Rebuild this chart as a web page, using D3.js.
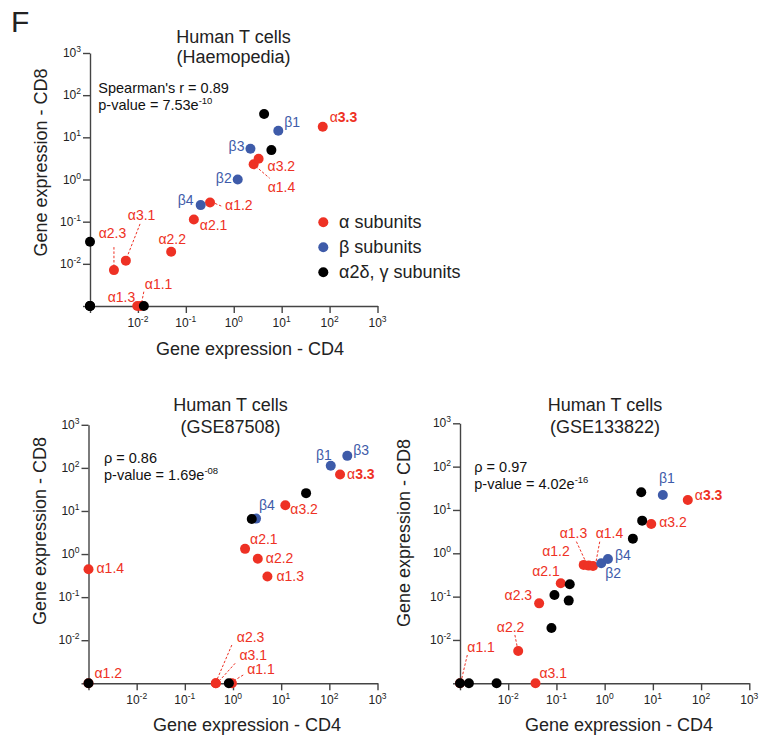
<!DOCTYPE html>
<html><head><meta charset="utf-8">
<script src="https://cdn.jsdelivr.net/npm/d3@7"></script>
<style>body{margin:0;background:#fff} svg{display:block;font-family:"Liberation Sans",Arial,Helvetica,sans-serif}</style>
</head><body><svg id="c" width="773" height="738"></svg>
<script>
// ---------- DATA ----------
const alphaNames = ["α1.1","α1.2","α1.3","α1.4","α2.1","α2.2","α2.3","α3.1","α3.2","α3.3"];
const betaNames  = ["β1","β2","β3","β4"];
const tickValues = [1e-3,1e-2,1e-1,1,10,100,1000];   // 1e-3 position holds the zero values

// Haemopedia
const haemoAlphaCD4 = [0.0115,0.32,0.0097,2.6,0.147,0.0494,0.00316,0.0056,3.3,72];
const haemoAlphaCD8 = [0,0.286,0,2.3,0.113,0.0194,0.0071,0.0119,3.1,17.8];
const haemoBetaCD4  = [8.5,1.21,2.23,0.204];
const haemoBetaCD8  = [14.3,1.0,5.35,0.247];
const haemoOtherCD4 = [4.3,6.1,0,0.0133,0,0,0];
const haemoOtherCD8 = [35.6,4.98,0.0334,0,0,0,0];

// GSE87508
const g875AlphaCD4 = [0.95,0,5.18,0,1.78,3.27,0.44,0.44,12.2,167];
const g875AlphaCD8 = [0,0,0.30,0.445,1.32,0.78,0,0,13.6,70];
const g875BetaCD4  = [107,null,236,3.01];
const g875BetaCD8  = [112,null,190,6.65];
const g875OtherCD4 = [32.9,2.45,0.82,0];
const g875OtherCD8 = [25.9,6.5,0,0];

// GSE133822
const g133AlphaCD4 = [0,0.368,0.467,0.574,0.123,0.0161,0.0438,0.0368,9.25,53];
const g133AlphaCD8 = [0,0.54,0.52,0.51,0.203,0.00557,0.070,0,4.75,17.0];
const g133BetaCD4  = [16.1,0.85,null,1.17];
const g133BetaCD8  = [22.2,0.59,null,0.74];
const g133OtherCD4 = [5.74,6.0,3.85,0.189,0.091,0.18,0.0788,0.00574,0.00153,0];
const g133OtherCD8 = [25.6,5.67,2.18,0.193,0.109,0.081,0.0189,0,0,0];

const statsText = [
  ["Spearman's r = 0.89","p-value = 7.53e","-10"],
  ["ρ = 0.86","p-value = 1.69e","-08"],
  ["ρ = 0.97","p-value = 4.02e","-16"]
];
const titles = [["Human T cells","(Haemopedia)"],["Human T cells","(GSE87508)"],["Human T cells","(GSE133822)"]];
const legendLabels = ["α subunits","β subunits","α2δ, γ subunits"];

// ---------- LAYOUT (label offsets in px from point: anchor, dx, dy, leader) ----------
const labelLayout = [
 {"β1":["start",6,-4],"α3.3":["start",7,-5],"β3":["end",-6,2],"α3.2":["start",9,12],
  "α1.4":["start",14,28,[2,2,16,14]],"β2":["end",-6,3],"β4":["end",-7,0],
  "α1.2":["start",15,8,[5,1,13,4.4]],"α2.1":["start",6,11],"α2.2":["middle",1,-8],
  "α3.1":["start",2,-41,[0.7,-2.4,14.7,-38]],"α2.3":["middle",-1.5,-32,[0,-3.3,0,-23.3]],
  "α1.1":["start",4,-17,[3,-14.3,0.7,-2.7]],"α1.3":["end",-2,-4]},
 {"β1":["end",1,-6],"β3":["start",6,-1],"α3.3":["start",7,4],"α3.2":["start",5,9],
  "β4":["start",3,-9],"α2.1":["start",5,-5],"α2.2":["start",8,4],"α1.3":["start",9,4],
  "α1.4":["start",8,4],"α1.2":["start",6,-5],
  "α2.3":["start",21,-41.6,[16,-38.3,1,-3.3]],"α3.1":["start",23.6,-23.3,[19.3,-20,4.3,-3.3]],
  "α1.1":["start",15.3,-9,[11.3,-8.3,1,-2]]},
 {"β1":["middle",4,-12],"α3.3":["start",7,0],"α3.2":["start",8,3],
  "α1.3":["start",-29,-27.4,[-12.3,-24,-2.3,-2.4]],"α1.4":["start",2.7,-27.7,[6.7,-24.3,2.7,-2.7]],
  "α1.2":["end",-14,-9],"β4":["start",7,1],"β2":["start",4,15],"α2.1":["end",-1,-7],
  "α2.3":["end",-7,-3],"α2.2":["middle",-7.6,-19.3,[-3.3,-16,-1,-4.3]],
  "α1.1":["start",7.3,-31.6,[7.3,-28.3,1,-1.6]],"α3.1":["start",4,-5.6]}
];

const panels = [
 {left:90, bottom:306, w:287.5, h:253, titleX:233.5, titleY:[42.7,63.3], statsX:98.3, statsY:[92.7,110],
  xTitle:[250,354.5], yTitle:[46.5,162.5],
  data:[haemoAlphaCD4,haemoAlphaCD8,haemoBetaCD4,haemoBetaCD8,haemoOtherCD4,haemoOtherCD8]},
 {left:88.5, bottom:683.3, w:289, h:258.5, titleX:230.5, titleY:[410.7,433.3], statsX:104, statsY:[462.7,480],
  xTitle:[247,730.7], yTitle:[45.5,531],
  data:[g875AlphaCD4,g875AlphaCD8,g875BetaCD4,g875BetaCD8,g875OtherCD4,g875OtherCD8]},
 {left:460, bottom:683.3, w:289.3, h:260, titleX:605, titleY:[410.7,433.3], statsX:474.3, statsY:[471.7,489.3],
  xTitle:[619,730.7], yTitle:[410,533],
  data:[g133AlphaCD4,g133AlphaCD8,g133BetaCD4,g133BetaCD8,g133OtherCD4,g133OtherCD8]}
];

const RED="#EE3124", BLUE="#3E5BA9", BLACK="#000", AXIS="#444";
const R = 5;

const svg = d3.select("#c");
svg.append("text").attr("x",11).attr("y",32).attr("font-size",30).attr("fill","#222").text("F");

function supText(sel, base, sup, supSize, supDy){
  sel.append("tspan").text(base);
  sel.append("tspan").attr("font-size",supSize).attr("dy",supDy).text(sup);
}

panels.forEach((p,pi)=>{
  const g = svg.append("g");
  const xs = d3.scaleLog().domain([1e-3,1e3]).range([p.left,p.left+p.w]);
  const ys = d3.scaleLog().domain([1e-3,1e3]).range([p.bottom,p.bottom-p.h]);
  const X = v => xs(v>0?v:1e-3), Y = v => ys(v>0?v:1e-3);

  // axes
  const xa = g.append("g").attr("transform",`translate(0,${p.bottom})`)
    .call(d3.axisBottom(xs).tickValues(tickValues).tickFormat("").tickSize(7).tickSizeOuter(0));
  const ya = g.append("g").attr("transform",`translate(${p.left},0)`)
    .call(d3.axisLeft(ys).tickValues(tickValues).tickFormat("").tickSize(7).tickSizeOuter(0));
  [xa,ya].forEach(a=>{a.selectAll("path,line").attr("stroke",AXIS).attr("stroke-width",1.4);});

  tickValues.slice(1).forEach(v=>{
    const e = Math.round(Math.log10(v));
    const tx = g.append("text").attr("x",xs(v)).attr("y",p.bottom+20.7)
      .attr("text-anchor","middle").attr("font-size",12).attr("fill","#222");
    supText(tx,"10",String(e),8.5,-5);
    const ty = g.append("text").attr("x",p.left-9).attr("y",ys(v)+4)
      .attr("text-anchor","end").attr("font-size",12).attr("fill","#222");
    supText(ty,"10",String(e),8.5,-5);
  });

  // axis titles
  g.append("text").attr("x",p.xTitle[0]).attr("y",p.xTitle[1]).attr("text-anchor","middle")
    .attr("font-size",18).attr("fill","#222").text("Gene expression - CD4");
  g.append("text").attr("transform",`translate(${p.yTitle[0]},${p.yTitle[1]}) rotate(-90)`)
    .attr("text-anchor","middle").attr("font-size",18).attr("fill","#222").text("Gene expression - CD8");

  // titles
  titles[pi].forEach((t,i)=>{
    g.append("text").attr("x",p.titleX).attr("y",p.titleY[i]).attr("text-anchor","middle")
      .attr("font-size",18).attr("fill","#222").text(t);
  });

  // stats
  const s = statsText[pi];
  g.append("text").attr("x",p.statsX).attr("y",p.statsY[0]).attr("font-size",14.5).attr("fill","#111").text(s[0]);
  const st = g.append("text").attr("x",p.statsX).attr("y",p.statsY[1]).attr("font-size",14.5).attr("fill","#111");
  supText(st,s[1],s[2],9.5,-6);

  const [aX,aY,bX,bY,oX,oY] = p.data;
  const lay = labelLayout[pi];

  // leader lines
  const addLabel = (name,cx,cy,color)=>{
    const L = lay[name]; if(!L) return;
    if(L[3]){
      g.append("line").attr("x1",cx+L[3][0]).attr("y1",cy+L[3][1]).attr("x2",cx+L[3][2]).attr("y2",cy+L[3][3])
        .attr("stroke",color).attr("stroke-width",1).attr("stroke-dasharray","2.5,1.8");
    }
    const t = g.append("text").attr("x",cx+L[1]).attr("y",cy+L[2]).attr("text-anchor",L[0])
      .attr("font-size",14).attr("fill",color);
    if(name==="α3.3"){ t.append("tspan").text("α"); t.append("tspan").attr("font-weight","bold").text("3.3"); }
    else t.text(name);
  };

  const pts = [];
  alphaNames.forEach((n,i)=>{ if(aX[i]!=null) pts.push({n,x:aX[i],y:aY[i],c:RED}); });
  betaNames.forEach((n,i)=>{ if(bX[i]!=null) pts.push({n,x:bX[i],y:bY[i],c:BLUE}); });
  oX.forEach((v,i)=>pts.push({n:null,x:v,y:oY[i],c:BLACK}));

  pts.forEach(d=>{ if(d.n) addLabel(d.n,X(d.x),Y(d.y),d.c); });
  g.selectAll("circle.pt").data(pts).join("circle").attr("class","pt")
    .attr("cx",d=>X(d.x)).attr("cy",d=>Y(d.y)).attr("r",R).attr("fill",d=>d.c);
});

// legend
const legColors=[RED,BLUE,BLACK];
legendLabels.forEach((t,i)=>{
  const cy = 222.3 + i*25;
  svg.append("circle").attr("cx",323.3).attr("cy",cy).attr("r",5).attr("fill",legColors[i]);
  svg.append("text").attr("x",339).attr("y",cy+5.5).attr("font-size",18).attr("fill","#222").text(t);
});
</script></body></html>
